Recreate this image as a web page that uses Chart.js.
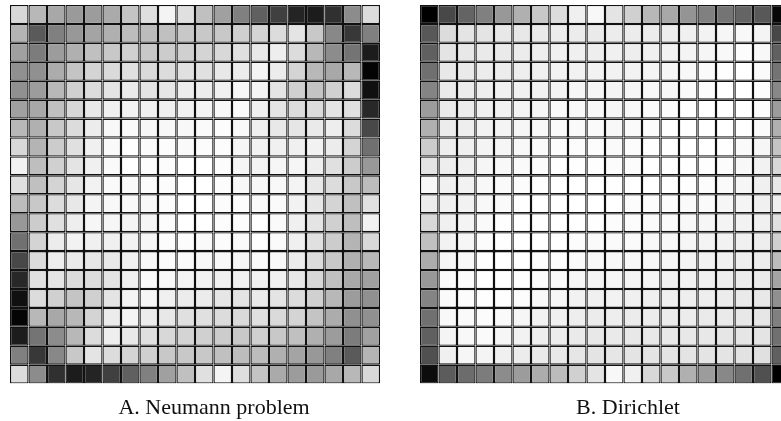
<!DOCTYPE html>
<html>
<head>
<meta charset="utf-8">
<script src="https://cdn.jsdelivr.net/npm/chart.js@4.4.1/dist/chart.umd.min.js"></script>
<style>
  html, body { margin: 0; padding: 0; background: #fff; overflow: hidden; }
  #page { position: relative; width: 781px; height: 421px; overflow: hidden; }
  .panel { position: absolute; top: 0; }
</style>
</head>
<body>
<div id="page">
  <div class="panel" style="left:0px"><canvas id="neumann" width="440" height="421"></canvas></div>
  <div class="panel" style="left:410px"><canvas id="dirichlet" width="440" height="421"></canvas></div>
</div>
<script>
// grid of 20 x 20 cells, values are gray levels (0 = black, 255 = white)
const columns = ['1','2','3','4','5','6','7','8','9','10','11','12','13','14','15','16','17','18','19','20'];
const rows = ['1','2','3','4','5','6','7','8','9','10','11','12','13','14','15','16','17','18','19','20'];
const captions = ['A. Neumann problem', 'B. Dirichlet'];

const neumannGray = [
  [216,184,168,154,156,170,196,222,244,224,192,160,128,96,64,36,28,48,140,220],
  [180,90,128,152,164,176,188,188,192,200,200,200,208,212,220,228,200,136,56,128],
  [160,124,156,176,192,200,208,200,204,208,212,216,224,232,238,220,184,140,116,28],
  [144,144,172,196,212,218,224,218,220,224,224,232,236,244,236,212,184,168,184,4],
  [144,156,184,208,220,228,234,228,230,236,236,240,246,244,228,208,196,208,220,16],
  [160,168,192,216,232,240,242,240,240,242,244,248,250,240,228,220,220,228,224,40],
  [184,176,200,220,236,248,250,246,248,248,250,252,248,240,232,230,234,238,220,72],
  [216,180,204,224,240,250,255,250,252,250,252,252,246,242,240,240,242,236,212,112],
  [242,190,208,228,240,250,255,252,252,255,255,252,246,244,246,246,238,224,204,152],
  [224,192,212,230,242,250,250,252,252,255,255,252,248,248,248,244,232,220,200,188],
  [188,200,220,232,244,248,248,248,252,255,255,252,252,250,250,242,230,212,192,224],
  [152,204,224,238,246,246,244,246,252,255,255,252,252,255,250,240,228,208,190,242],
  [112,212,236,242,240,240,242,246,252,252,250,252,250,255,250,240,224,204,180,216],
  [72,220,238,234,230,232,240,248,252,250,248,248,246,250,248,236,220,200,176,184],
  [40,224,228,220,220,228,240,250,248,244,242,240,240,242,240,232,216,192,168,160],
  [16,220,208,196,208,228,244,246,240,236,236,230,228,234,228,220,208,184,156,144],
  [4,184,168,184,212,236,244,236,232,224,224,220,218,224,218,212,196,172,144,144],
  [28,116,140,184,220,238,232,224,216,212,208,204,200,208,200,192,176,156,124,160],
  [128,56,136,200,228,220,212,208,200,200,200,192,188,188,176,164,152,128,90,180],
  [220,140,48,28,36,64,96,128,160,192,224,244,222,196,170,156,154,168,184,216]
];

const dirichletGray = [
  [0,72,100,128,152,176,200,220,240,248,228,208,184,168,148,128,116,100,88,8],
  [88,220,228,228,232,232,234,236,236,234,236,236,236,238,240,242,246,248,244,72],
  [96,228,232,234,234,236,238,240,240,238,240,238,240,242,244,246,248,252,248,96],
  [112,232,234,236,236,238,240,242,242,242,242,242,244,246,248,250,254,255,250,116],
  [132,234,236,238,240,240,242,244,246,246,244,246,248,248,250,252,255,255,252,136],
  [156,234,236,240,242,244,246,248,248,248,246,248,250,252,254,255,255,255,252,156],
  [176,236,238,242,244,246,248,250,250,250,248,250,252,254,255,255,255,255,250,176],
  [204,238,240,244,246,248,250,252,252,252,250,252,254,255,255,255,254,250,246,196],
  [228,238,240,246,248,250,252,254,254,254,252,252,255,255,255,254,252,248,242,216],
  [248,240,242,248,250,252,254,255,255,255,254,255,255,255,254,252,250,246,240,232],
  [236,240,242,248,250,255,255,255,255,255,255,252,252,252,250,250,246,244,240,240],
  [216,240,244,250,254,255,255,255,255,254,252,252,250,250,248,246,244,242,240,224],
  [192,242,246,252,254,255,255,254,252,250,250,250,248,248,246,244,242,240,238,208],
  [172,246,248,254,255,255,254,252,250,248,248,248,246,246,244,242,240,238,236,188],
  [152,250,252,254,255,254,252,250,246,244,246,244,244,242,242,240,238,236,234,164],
  [132,250,252,254,254,252,248,246,242,240,242,240,240,240,238,238,236,234,232,144],
  [112,248,250,252,250,246,242,240,238,236,238,236,236,236,236,234,234,232,230,128],
  [96,244,248,250,246,242,238,236,234,232,234,232,232,232,232,232,230,230,228,112],
  [80,240,246,244,240,236,234,232,230,228,230,228,228,228,228,228,228,226,224,96],
  [12,92,108,124,140,156,172,188,208,228,248,240,216,200,176,156,136,112,80,0]
];

function gray(g) {
  return 'rgb(' + g + ',' + g + ',' + g + ')';
}

// one dataset per row, each cell is a floating bar spanning [row, row + 1]
function makeDatasets(grid) {
  return rows.map((r, i) => ({
    label: 'row ' + r,
    data: columns.map(() => [i, i + 1]),
    backgroundColor: grid[i].map(gray),
    borderColor: '#111',
    borderWidth: 1.3,
    borderSkipped: false,
    inflateAmount: 0,
    grouped: false,
    barPercentage: 1,
    categoryPercentage: 1
  }));
}

// canvas is 440 wide: grid runs 10..380, an empty right-hand axis shifts the caption centre right
function makeChart(id, grid, caption, captionGap) {
  return new Chart(document.getElementById(id), {
    type: 'bar',
    data: { labels: columns, datasets: makeDatasets(grid) },
    options: {
      responsive: false,
      animation: false,
      layout: { padding: { left: 10, right: 60 - captionGap, top: 5, bottom: 0 } },
      scales: {
        x: { display: false },
        y: { display: false, min: 0, max: rows.length, reverse: true },
        gap: {
          type: 'linear',
          position: 'right',
          grid: { display: false },
          border: { display: false },
          ticks: { display: false },
          afterFit: (scale) => { scale.width = captionGap; }
        }
      },
      plugins: {
        legend: { display: false },
        tooltip: { enabled: false },
        title: {
          display: true,
          position: 'bottom',
          text: caption,
          color: '#111',
          font: { family: 'Liberation Serif', size: 22, weight: 'normal' },
          padding: { top: 11, bottom: 0 }
        }
      }
    }
  });
}

makeChart('neumann', neumannGray, captions[0], 38);
makeChart('dirichlet', dirichletGray, captions[1], 46);
</script>
</body>
</html>
